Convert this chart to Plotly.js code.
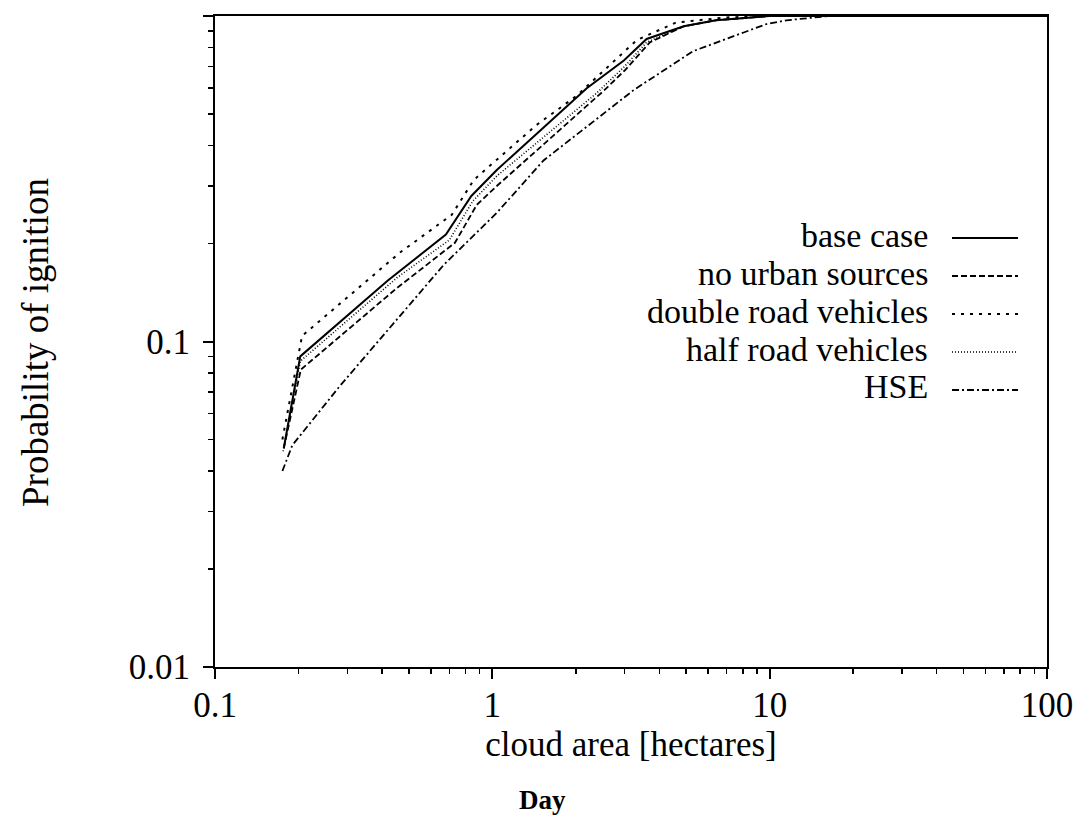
<!DOCTYPE html>
<html>
<head>
<meta charset="utf-8">
<script src="https://cdn.plot.ly/plotly-3.0.1.min.js"></script>
<style>
  html, body { margin: 0; padding: 0; background: #fff; }
  #chart { width: 1085px; height: 835px; }
</style>
</head>
<body>
<div id="chart"></div>
<script>
// ---- Data ----
const seriesNames = ["base case", "no urban sources", "double road vehicles", "half road vehicles", "HSE"];

const baseX = [0.177, 0.203, 0.42, 0.68, 0.84, 1.04, 2.19, 2.98, 3.6, 4.9, 6.4, 10, 100];
const baseY = [0.047, 0.090, 0.154, 0.213, 0.28, 0.337, 0.60, 0.73, 0.85, 0.93, 0.97, 1.0, 1.0];

const noUrbanX = [0.177, 0.204, 0.453, 0.733, 0.879, 1.04, 2.52, 3.0, 3.7, 4.9, 6.4, 10, 100];
const noUrbanY = [0.047, 0.082, 0.146, 0.201, 0.263, 0.301, 0.589, 0.68, 0.83, 0.93, 0.97, 1.0, 1.0];

const doubleX = [0.175, 0.206, 0.464, 0.596, 0.714, 0.858, 1.445, 2.01, 3.32, 4.6, 7, 10, 100];
const doubleY = [0.05, 0.104, 0.1875, 0.219, 0.245, 0.314, 0.463, 0.568, 0.844, 0.955, 0.99, 1.0, 1.0];

const halfX = [0.176, 0.203, 0.453, 0.70, 0.85, 1.04, 2.38, 3.0, 3.6, 4.9, 6.4, 10, 100];
const halfY = [0.046, 0.087, 0.157, 0.205, 0.27, 0.323, 0.58, 0.70, 0.83, 0.93, 0.97, 1.0, 1.0];

const hseX = [0.175, 0.19, 0.282, 0.453, 0.668, 1.04, 1.53, 3.24, 3.92, 5.3, 8.06, 9.75, 11.5, 16.4, 100];
const hseY = [0.04, 0.048, 0.073, 0.117, 0.172, 0.249, 0.36, 0.593, 0.66, 0.78, 0.89, 0.945, 0.97, 1.0, 1.0];

const xTickVals = [0.1, 1, 10, 100];
const xTickText = ["0.1", "1", "10", "100"];
const yTickVals = [0.01, 0.1, 1];
const yTickText = ["0.01", "0.1", "1"];

const xTitle = "cloud area [hectares]";
const yTitle = "Probability of ignition";
const caption = "Day";

// ---- Styles ----
const FONT = "Liberation Serif";
const dashes = ["solid", "6px,3px", "3px,6px", "1px,2px", "7px,3px,2px,3px"];
const widths = [2, 1.8, 2, 1.6, 1.8];

const xs = [baseX, noUrbanX, doubleX, halfX, hseX];
const ys = [baseY, noUrbanY, doubleY, halfY, hseY];

const traces = seriesNames.map((n, i) => ({
  x: xs[i], y: ys[i], name: n, type: "scatter", mode: "lines",
  line: { color: "#000", width: widths[i], dash: dashes[i] },
  showlegend: false, cliponaxis: true
}));

const L = 215, R = 38, T = 16, B = 168;
const W = 1085, H = 835;
const plotW = W - L - R, plotH = H - T - B;
const px2paperX = px => (px - L) / plotW;
const px2paperY = py => (H - B - py) / plotH;

const rowY = [235, 273, 311, 349, 387];
const annotations = seriesNames.map((n, i) => ({
  xref: "paper", yref: "paper",
  x: px2paperX(929), y: px2paperY(rowY[i]),
  xanchor: "right", yanchor: "middle",
  text: n, showarrow: false, borderpad: 0,
  font: { family: FONT, size: 34, color: "#000" }
}));
const shapes = seriesNames.map((n, i) => ({
  type: "line", xref: "paper", yref: "paper",
  x0: px2paperX(952), x1: px2paperX(1018),
  y0: px2paperY(rowY[i] + 3), y1: px2paperY(rowY[i] + 3),
  line: { color: "#000", width: widths[i], dash: dashes[i] }
}));

annotations.push({
  xref: "paper", yref: "paper",
  x: px2paperX(36), y: px2paperY(343),
  xanchor: "center", yanchor: "middle", textangle: -90,
  text: yTitle, showarrow: false,
  font: { family: FONT, size: 37, color: "#000" }
});
annotations.push({
  xref: "paper", yref: "paper",
  x: px2paperX(542), y: px2paperY(800),
  xanchor: "center", yanchor: "middle",
  text: "<b>" + caption + "</b>", showarrow: false,
  font: { family: FONT, size: 27, color: "#000" }
});

const axisCommon = {
  type: "log", showgrid: false, zeroline: false,
  showline: true, linecolor: "#000", linewidth: 2, mirror: true,
  ticks: "outside", ticklen: 10, tickwidth: 2, tickcolor: "#000",
  tickfont: { family: FONT, size: 35, color: "#000" },
  minor: { dtick: "D1", ticks: "outside", ticklen: 5, tickwidth: 1.5, tickcolor: "#000", showgrid: false }
};

const layout = {
  width: W, height: H,
  margin: { l: L, r: R, t: T, b: B },
  paper_bgcolor: "#fff", plot_bgcolor: "#fff",
  showlegend: false,
  font: { family: FONT, color: "#000" },
  xaxis: Object.assign({}, axisCommon, {
    range: [-1, 2], tickmode: "array", tickvals: xTickVals, ticktext: xTickText,
    ticklabelstandoff: -4,
    title: { text: xTitle, font: { family: FONT, size: 35, color: "#000" }, standoff: 0 }
  }),
  yaxis: Object.assign({}, axisCommon, {
    range: [-2, 0], tickmode: "array", tickvals: yTickVals, ticktext: yTickText,
    ticklabelstandoff: 6
  }),
  annotations: annotations,
  shapes: shapes
};

Plotly.newPlot("chart", traces, layout, { staticPlot: true, displayModeBar: false });
</script>
</body>
</html>
